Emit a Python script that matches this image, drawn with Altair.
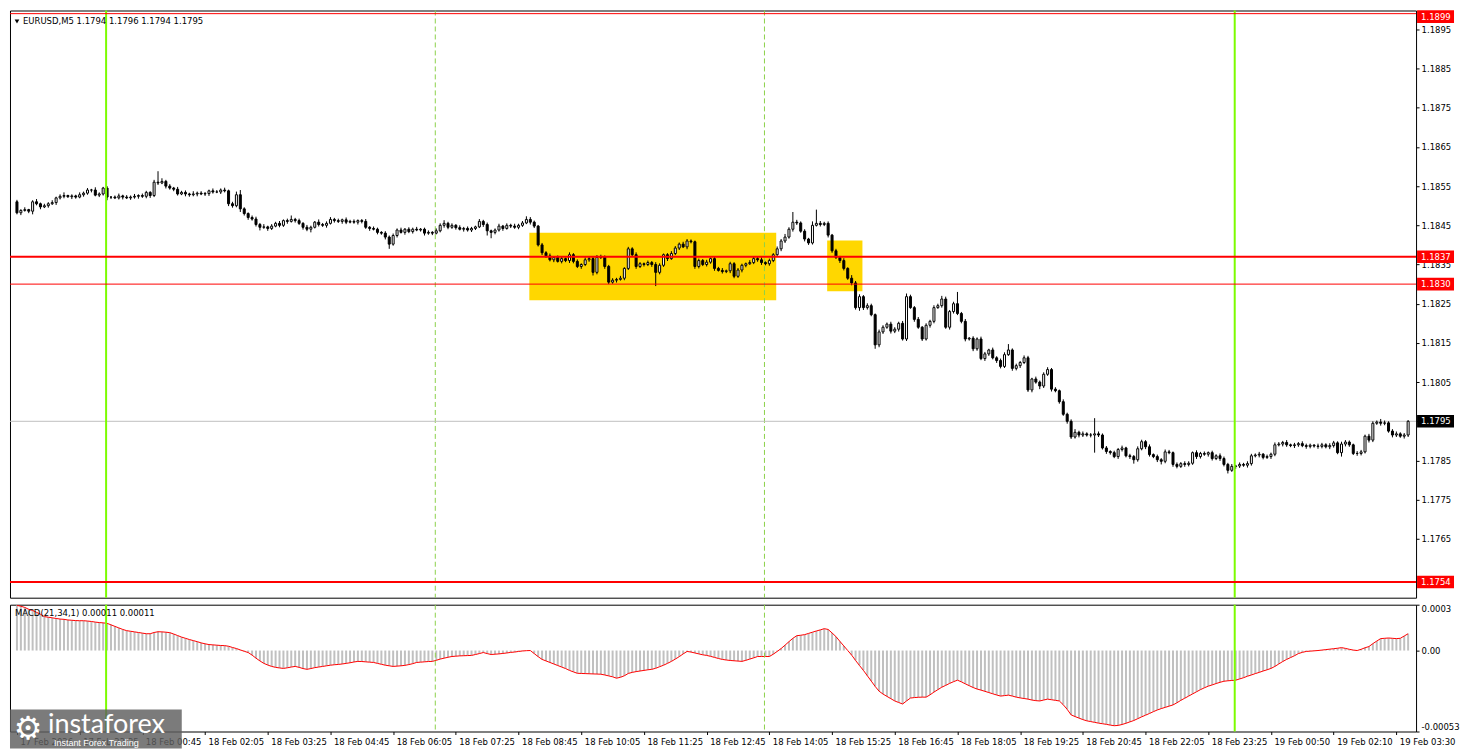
import altair as alt
import pandas as pd

# ---------------- data ----------------
# prices in points above 1.17000 (1 point = 0.00001)
first_open = 1510
closes = [
    1482, 1488, 1490, 1486, 1510, 1505, 1497, 1500,
    1505, 1508, 1520, 1524, 1526, 1523, 1525, 1522,
    1528, 1532, 1540, 1540, 1527, 1530, 1545, 1522,
    1522, 1520, 1525, 1522, 1520, 1522, 1524, 1526,
    1524, 1534, 1526, 1560, 1558, 1562, 1550, 1545,
    1542, 1530, 1534, 1530, 1528, 1530, 1532, 1530,
    1531, 1538, 1535, 1535, 1540, 1538, 1505, 1500,
    1528, 1492, 1480, 1470, 1466, 1452, 1445, 1446,
    1442, 1448, 1455, 1450, 1462, 1460, 1465, 1462,
    1455, 1445, 1440, 1445, 1458, 1452, 1450, 1455,
    1465, 1462, 1460, 1464, 1458, 1460, 1458, 1462,
    1460, 1445, 1442, 1440, 1432, 1430, 1420, 1402,
    1424, 1438, 1432, 1440, 1434, 1440, 1438, 1440,
    1430, 1432, 1430, 1436, 1450, 1455, 1445, 1450,
    1444, 1440, 1442, 1438, 1442, 1446, 1460, 1452,
    1436, 1432, 1438, 1448, 1442, 1450, 1448, 1445,
    1450, 1456, 1465, 1458, 1448, 1400, 1380, 1372,
    1362, 1368, 1358, 1365, 1360, 1375, 1358, 1345,
    1350, 1362, 1365, 1330, 1368, 1370, 1345, 1305,
    1310, 1312, 1315, 1340, 1390, 1375, 1345, 1352,
    1350, 1355, 1350, 1330, 1348, 1375, 1365, 1378,
    1392, 1402, 1395, 1410, 1408, 1345, 1360, 1350,
    1356, 1365, 1340, 1335, 1332, 1334, 1352, 1320,
    1336, 1348, 1352, 1355, 1365, 1362, 1355, 1352,
    1360, 1375, 1390, 1410, 1420, 1440, 1458, 1456,
    1435, 1415, 1405, 1450, 1455, 1452, 1455, 1425,
    1385, 1368, 1360, 1340, 1315, 1303, 1240, 1268,
    1240, 1245, 1222, 1145, 1178, 1190, 1198, 1180,
    1185, 1200, 1160, 1268, 1240, 1210, 1190, 1160,
    1195, 1205, 1240, 1245, 1262, 1190, 1230, 1250,
    1225, 1205, 1160, 1162, 1135, 1160, 1110, 1122,
    1132, 1112, 1105, 1090, 1120, 1132, 1085, 1092,
    1100, 1112, 1030, 1058, 1050, 1040, 1070, 1082,
    1032, 1028, 1000, 968, 950, 910, 922, 915,
    918, 915, 915, 918, 915, 882, 873, 870,
    860, 878, 882, 862, 860, 852, 880, 898,
    885, 865, 860, 852, 848, 872, 870, 840,
    835, 842, 840, 843, 870, 860, 868, 866,
    870, 855, 862, 855, 840, 825, 835, 836,
    840, 838, 842, 862, 864, 866, 858, 860,
    866, 890, 892, 896, 890, 888, 890, 893,
    888, 886, 889, 887, 886, 890, 885, 888,
    895, 870, 892, 897, 890, 868, 868, 872,
    912, 902, 945, 948, 945, 946, 925, 915,
    918, 912, 915, 950,
]
upper_wick = [
    5, 3, 6, 2, 4, 7, 3, 5,
    4, 6, 3, 5, 8, 2, 4, 3,
    6, 4, 5, 3, 7, 4, 3, 5,
    2, 4, 6, 3, 5, 4, 6, 3,
    5, 4, 3, 6, 28, 8, 4, 5,
    3, 6, 4, 5, 3, 7, 4, 5,
    4, 3, 6, 5, 4, 6, 3, 5,
    8, 12, 4, 3, 5, 6, 4, 7,
    3, 5, 4, 6, 3, 5, 10, 4,
    5, 3, 6, 4, 3, 7, 4, 5,
    6, 4, 5, 3, 6, 4, 5, 3,
    4, 6, 3, 5, 4, 3, 5, 4,
    5, 4, 6, 3, 5, 4, 6, 3,
    4, 5, 3, 6, 5, 8, 4, 5,
    3, 6, 4, 5, 4, 3, 6, 4,
    5, 3, 4, 6, 3, 5, 4, 6,
    4, 5, 8, 6, 4, 3, 5, 4,
    6, 3, 5, 4, 3, 6, 4, 5,
    3, 6, 5, 4, 6, 5, 3, 4,
    5, 4, 6, 3, 5, 4, 6, 4,
    3, 5, 4, 6, 5, 3, 4, 6,
    5, 4, 6, 5, 4, 3, 5, 4,
    6, 3, 5, 4, 6, 3, 5, 4,
    5, 4, 3, 6, 5, 4, 6, 3,
    5, 4, 6, 5, 8, 5, 26, 6,
    4, 5, 3, 10, 35, 6, 4, 5,
    3, 5, 4, 6, 3, 8, 5, 6,
    4, 6, 5, 3, 6, 5, 4, 6,
    5, 4, 6, 8, 5, 4, 6, 3,
    5, 4, 6, 5, 8, 6, 4, 5,
    30, 4, 6, 3, 5, 4, 6, 5,
    3, 6, 4, 5, 6, 15, 4, 5,
    4, 6, 5, 3, 6, 4, 5, 6,
    4, 5, 3, 6, 4, 5, 8, 4,
    6, 4, 5, 40, 6, 4, 5, 3,
    5, 4, 6, 3, 5, 4, 6, 5,
    4, 6, 3, 5, 4, 6, 5, 3,
    5, 4, 6, 5, 3, 6, 4, 5,
    3, 5, 4, 6, 5, 4, 6, 3,
    5, 4, 6, 5, 4, 6, 3, 5,
    4, 6, 5, 4, 6, 3, 5, 4,
    6, 5, 4, 3, 6, 5, 4, 6,
    5, 4, 6, 5, 4, 3, 6, 5,
    4, 6, 5, 4, 8, 6, 4, 5,
    6, 4, 5, 3,
]
lower_wick = [
    4, 6, 3, 5, 8, 4, 6, 3,
    5, 3, 6, 4, 5, 3, 6, 4,
    3, 5, 4, 6, 3, 5, 4, 8,
    5, 3, 4, 6, 3, 5, 4, 6,
    4, 5, 6, 4, 5, 3, 6, 4,
    5, 4, 3, 6, 5, 4, 6, 3,
    5, 6, 4, 3, 5, 4, 6, 5,
    4, 8, 5, 6, 4, 5, 8, 4,
    6, 4, 3, 5, 4, 6, 3, 5,
    4, 6, 5, 8, 3, 5, 4, 6,
    3, 5, 4, 6, 5, 3, 4, 6,
    5, 4, 6, 3, 5, 4, 6, 12,
    4, 5, 3, 6, 4, 5, 3, 4,
    6, 4, 5, 3, 4, 6, 5, 4,
    5, 3, 6, 4, 5, 4, 3, 6,
    12, 15, 5, 4, 6, 3, 5, 4,
    5, 4, 3, 6, 5, 4, 6, 5,
    4, 6, 3, 5, 4, 6, 5, 4,
    6, 4, 5, 8, 5, 4, 6, 5,
    4, 6, 3, 5, 4, 5, 6, 4,
    5, 4, 6, 35, 5, 4, 6, 3,
    4, 5, 3, 6, 4, 6, 5, 4,
    5, 4, 6, 3, 5, 4, 6, 5,
    4, 6, 5, 3, 4, 5, 6, 4,
    5, 4, 3, 6, 5, 4, 6, 5,
    4, 6, 5, 4, 3, 5, 4, 6,
    5, 4, 6, 5, 4, 6, 5, 8,
    6, 5, 4, 10, 6, 5, 4, 6,
    5, 6, 4, 5, 3, 6, 4, 5,
    4, 6, 5, 3, 5, 4, 6, 5,
    4, 5, 6, 4, 6, 5, 4, 6,
    5, 4, 6, 5, 4, 3, 6, 5,
    6, 4, 5, 6, 4, 8, 5, 4,
    6, 4, 5, 4, 6, 5, 4, 6,
    5, 4, 6, 45, 5, 4, 6, 5,
    4, 6, 5, 4, 6, 10, 5, 4,
    6, 5, 4, 6, 8, 5, 4, 6,
    5, 4, 6, 5, 4, 6, 5, 4,
    6, 5, 4, 6, 5, 8, 4, 6,
    5, 4, 6, 5, 4, 6, 5, 4,
    6, 5, 4, 6, 5, 4, 6, 5,
    4, 6, 5, 4, 6, 5, 4, 6,
    5, 4, 10, 6, 5, 4, 6, 5,
    4, 6, 5, 4, 6, 5, 4, 6,
    5, 4, 6, 5,
]
# MACD(21,34,1) per bar, in units of 0.000001
macd = [
    295, 290, 282, 270, 262, 250, 238, 222,
    218, 214, 210, 206, 204, 200, 198, 196,
    195, 195, 193, 190, 186, 183, 181, 178,
    168, 158, 148, 138, 130, 126, 122, 118,
    114, 110, 110, 118, 123, 122, 120, 117,
    108, 98, 88, 80, 72, 65, 58, 50,
    44, 39, 37, 35, 33, 32, 28, 20,
    13, 4, -5, -13, -30, -50, -68, -84,
    -95, -104, -110, -114, -117, -113, -108, -104,
    -110, -118, -123, -118, -112, -108, -104, -100,
    -96, -93, -91, -88, -84, -80, -75, -71,
    -72, -74, -76, -78, -84, -90, -96, -100,
    -104, -102, -100, -97, -92, -86, -78, -76,
    -74, -72, -71, -64, -56, -50, -44, -39,
    -37, -35, -34, -33, -32, -26, -20, -13,
    -20, -26, -24, -22, -19, -16, -12, -10,
    -6, -3, -1, 0, -20, -40, -58, -68,
    -78, -88, -98, -108, -118, -130, -140, -149,
    -150, -151, -152, -153, -154, -155, -160, -166,
    -172, -181, -175, -165, -150, -143, -138, -134,
    -130, -126, -123, -116, -106, -96, -84, -71,
    -56, -40, -22, -6, -10, -16, -22, -28,
    -32, -38, -45, -52, -58, -62, -65, -67,
    -69, -71, -64, -56, -48, -39, -39, -39,
    -39, -24, -6, 13, 35, 58, 80, 97,
    100, 104, 112, 120, 128, 135, 143, 138,
    115, 91, 60, 30, 0, -30, -65, -98,
    -130, -165, -200, -235, -266, -285, -300, -315,
    -330, -340, -350, -330, -311, -308, -306, -305,
    -305, -290, -272, -256, -240, -228, -215, -204,
    -194, -205, -218, -230, -242, -252, -259, -267,
    -275, -283, -291, -298, -295, -292, -298, -305,
    -310, -314, -318, -324, -328, -330, -324, -318,
    -322, -326, -330, -355, -385, -421, -432, -442,
    -452, -460, -465, -470, -475, -479, -483, -488,
    -492, -490, -484, -476, -467, -458, -446, -434,
    -423, -412, -400, -389, -380, -372, -364, -356,
    -342, -326, -312, -298, -284, -270, -256, -244,
    -233, -225, -216, -208, -201, -198, -196, -194,
    -186, -178, -168, -160, -151, -143, -134, -126,
    -117, -104, -88, -72, -58, -46, -34, -20,
    -12, -6, -4, -2, 0, 3, 6, 9,
    12, 15, 19, 14, 8, 3, 0, 8,
    18, 26, 45, 62, 78, 80, 82, 80,
    78, 80, 95, 110,
]

x_tick_index = [0, 16, 32, 48, 64, 80, 96, 112, 128, 144, 160, 176,
                192, 208, 224, 240, 256, 272, 288, 304, 320, 336, 352]
x_tick_labels = ["17 Feb 2026", "17 Feb 22:25", "18 Feb 00:45", "18 Feb 02:05",
                 "18 Feb 03:25", "18 Feb 04:45", "18 Feb 06:05", "18 Feb 07:25",
                 "18 Feb 08:45", "18 Feb 10:05", "18 Feb 11:25", "18 Feb 12:45",
                 "18 Feb 14:05", "18 Feb 15:25", "18 Feb 16:45", "18 Feb 18:05",
                 "18 Feb 19:25", "18 Feb 20:45", "18 Feb 22:05", "18 Feb 23:25",
                 "19 Feb 00:50", "19 Feb 02:10", "19 Feb 03:30"]
price_ticks = [1.1765, 1.1775, 1.1785, 1.1795, 1.1805, 1.1815, 1.1825,
               1.1835, 1.1845, 1.1855, 1.1865, 1.1875, 1.1885, 1.1895]
macd_ticks = [0.0003, 0.0, -0.00053]
macd_tick_labels = ["0.0003", "0.00", "-0.00053"]

level_prices = [1.1899, 1.1837, 1.1830, 1.1754]
level_labels = ["1.1899", "1.1837", "1.1830", "1.1754"]
level_widths = [1, 2, 1, 2]
current_price = 1.1795
current_label = "1.1795"

box_start = [130.75, 206.75]
box_end = [193.75, 215.75]
box_low = [1.18259, 1.18282]
box_high = [1.18431, 1.18411]

green_lines = [22.75, 310.75]
dashed_lines = [106.75, 190.75]

header_text = "EURUSD,M5  1.1794 1.1796 1.1794 1.1795"
macd_text = "MACD(21,34,1) 0.00011 0.00011"
brand_text = "instaforex"
brand_sub = "Instant Forex Trading"

# ---------------- layout / style ----------------
W = 1408
H1 = 588
H2 = 127
FONT = "DejaVu Sans"
FS = 8.5

xs = alt.Scale(domain=[-0.5, 355.75], nice=False, zero=False)
ys = alt.Scale(domain=[1.1750, 1.18998], nice=False, zero=False)
ms = alt.Scale(domain=[-0.00053, 0.0003], nice=False, zero=False)

n = min(len(closes), len(upper_wick), len(lower_wick))
opens = [first_open] + closes[:-1]
rows = []
for i in range(n):
    o = 1.17 + opens[i] / 1e5
    c = 1.17 + closes[i] / 1e5
    rows.append(dict(k=i, o=o, c=c,
                     h=max(o, c) + upper_wick[i] / 1e5,
                     l=min(o, c) - lower_wick[i] / 1e5,
                     fillc="white" if c >= o else "black"))
candles = pd.DataFrame(rows)
macd_df = pd.DataFrame({"k": list(range(len(macd))), "m": [v / 1e6 for v in macd]})

box_df = pd.DataFrame({"x1": box_start, "x2": box_end, "lo": box_low, "hi": box_high})
green_df = pd.DataFrame({"k": green_lines})
dash_df = pd.DataFrame({"k": dashed_lines})
level_df = pd.DataFrame({"p": level_prices, "w": level_widths})
cur_df = pd.DataFrame({"p": [current_price]})
tag_df = pd.DataFrame({"p": level_prices + [current_price],
                       "t": level_labels + [current_label],
                       "bg": ["#FF0000"] * len(level_prices) + ["#000000"]})
top_tag = tag_df[tag_df["p"] == max(level_prices)]
other_tags = tag_df[tag_df["p"] != max(level_prices)]
one = pd.DataFrame({"a": [0]})

price_axis = alt.Axis(orient="right", values=price_ticks, format=".4f", title=None,
                      grid=False, domain=False, ticks=True, tickSize=3, tickColor="black",
                      labelColor="black", labelFont=FONT, labelFontSize=FS, labelPadding=2)

label_expr = ("[" + ",".join(repr(s) for s in x_tick_labels) + "][indexof(["
              + ",".join(str(v) for v in x_tick_index) + "], datum.value)]")
time_axis = alt.Axis(values=x_tick_index, labelExpr=label_expr, title=None, grid=False,
                     domain=False, ticks=True, tickSize=3, tickColor="black",
                     labelAlign="left", labelBaseline="top", labelOffset=3,
                     labelPadding=3, labelOverlap=False, labelColor="black",
                     labelFont=FONT, labelFontSize=FS)

macd_expr = ("[" + ",".join(repr(s) for s in macd_tick_labels) + "][indexof(["
             + ",".join(repr(v) for v in macd_ticks) + "], datum.value)]")
macd_axis = alt.Axis(orient="right", values=macd_ticks, labelExpr=macd_expr, title=None,
                     grid=False, domain=False, ticks=True, tickSize=3, tickColor="black",
                     labelFlush=True, labelColor="black", labelFont=FONT,
                     labelFontSize=FS, labelPadding=2)

XN = lambda f: alt.X(f, scale=xs, axis=None)
YP = lambda f: alt.Y(f, scale=ys, axis=price_axis)
XT = lambda f: alt.X(f, scale=xs, axis=time_axis)
YM = lambda f: alt.Y(f, scale=ms, axis=macd_axis)

# ---------------- main price panel ----------------
boxes = alt.Chart(box_df).mark_rect(color="#FFD700").encode(
    x=XN("x1:Q"), x2="x2:Q", y=YP("lo:Q"), y2="hi:Q")
dashes = alt.Chart(dash_df).mark_rule(color="#8CD14A", strokeWidth=1, strokeDash=[5, 3]).encode(
    x=XN("k:Q"))
cur_line = alt.Chart(cur_df).mark_rule(color="#C0C0C0", strokeWidth=1).encode(y=YP("p:Q"))
wicks = alt.Chart(candles).mark_rule(color="black", strokeWidth=1).encode(
    x=XN("k:Q"), y=YP("l:Q"), y2="h:Q")
bodies = alt.Chart(candles).mark_bar(width=2, stroke="black", strokeWidth=1,
                                     orient="vertical").encode(
    x=XN("k:Q"), y=YP("o:Q"), y2="c:Q", fill=alt.Fill("fillc:N", scale=None))
greens = alt.Chart(green_df).mark_rule(color="#7CFC00", strokeWidth=2).encode(x=XN("k:Q"))
levels = alt.Chart(level_df).mark_rule(color="#FF0000").encode(
    y=YP("p:Q"), strokeWidth=alt.StrokeWidth("w:Q", scale=None))
tri = alt.Chart(one).mark_point(shape="triangle-down", filled=True, size=22, color="black",
                                opacity=1).encode(x=alt.value(7), y=alt.value(11))
header = alt.Chart(one).mark_text(align="left", baseline="middle", font=FONT, fontSize=FS,
                                  color="black").encode(
    x=alt.value(13), y=alt.value(11), text=alt.value(header_text))

TAG_SHAPE = "M-1,-0.34L1,-0.34L1,0.34L-1,0.34Z"


def tag_layers(df, dy):
    bg = alt.Chart(df).mark_point(shape=TAG_SHAPE, filled=True, size=37 * 37, opacity=1,
                                  strokeWidth=0, yOffset=dy).encode(
        x=alt.value(W + 19.5), y=YP("p:Q"), color=alt.Color("bg:N", scale=None))
    tx = alt.Chart(df).mark_text(align="left", baseline="middle", font=FONT, fontSize=FS,
                                 color="white", yOffset=dy).encode(
        x=alt.value(W + 5), y=YP("p:Q"), text="t:N")
    return [bg, tx]


main = alt.layer(boxes, dashes, cur_line, wicks, bodies, greens, levels, tri, header,
                 *tag_layers(top_tag, 3), *tag_layers(other_tags, 0)
                 ).properties(width=W, height=H1)

# ---------------- MACD panel ----------------
hist = alt.Chart(macd_df).mark_bar(width=2, color="#C0C0C0", orient="vertical").encode(
    x=XT("k:Q"), y=YM("m:Q"), y2=alt.datum(0))
sig = alt.Chart(macd_df).mark_line(color="#FF0000", strokeWidth=1).encode(
    x=XT("k:Q"), y=YM("m:Q"))
dashes2 = alt.Chart(dash_df).mark_rule(color="#8CD14A", strokeWidth=1, strokeDash=[5, 3]).encode(
    x=XT("k:Q"))
greens2 = alt.Chart(green_df).mark_rule(color="#7CFC00", strokeWidth=2).encode(x=XT("k:Q"))
mtext = alt.Chart(one).mark_text(align="left", baseline="middle", font=FONT, fontSize=FS,
                                 color="black").encode(
    x=alt.value(5), y=alt.value(8), text=alt.value(macd_text))
wm_box = alt.Chart(one).mark_rect(color="#5E5E5E", opacity=0.82).encode(
    x=alt.value(0), x2=alt.value(172), y=alt.value(H2 - 22), y2=alt.value(H2 + 17))
wm_gear = alt.Chart(one).mark_text(align="center", baseline="middle", font="DejaVu Sans",
                                   fontSize=32, color="white").encode(
    x=alt.value(18), y=alt.value(H2 - 3), text=alt.value("\u2699"))
wm_name = alt.Chart(one).mark_text(align="left", baseline="alphabetic", font="Lato",
                                   fontSize=27, color="white").encode(
    x=alt.value(38), y=alt.value(H2 + 1), text=alt.value(brand_text))
wm_sub = alt.Chart(one).mark_text(align="left", baseline="middle", font="Liberation Sans",
                                  fontSize=9, color="white").encode(
    x=alt.value(44), y=alt.value(H2 + 12), text=alt.value(brand_sub))

macd_panel = alt.layer(hist, sig, dashes2, greens2, mtext,
                       wm_box, wm_gear, wm_name, wm_sub).properties(width=W, height=H2)

chart = alt.vconcat(main, macd_panel, spacing=3).properties(
    padding=0, background="white"
).configure_view(stroke="black", strokeWidth=1)

chart.save("out.html", embed_options={"renderer": "svg", "actions": False})
